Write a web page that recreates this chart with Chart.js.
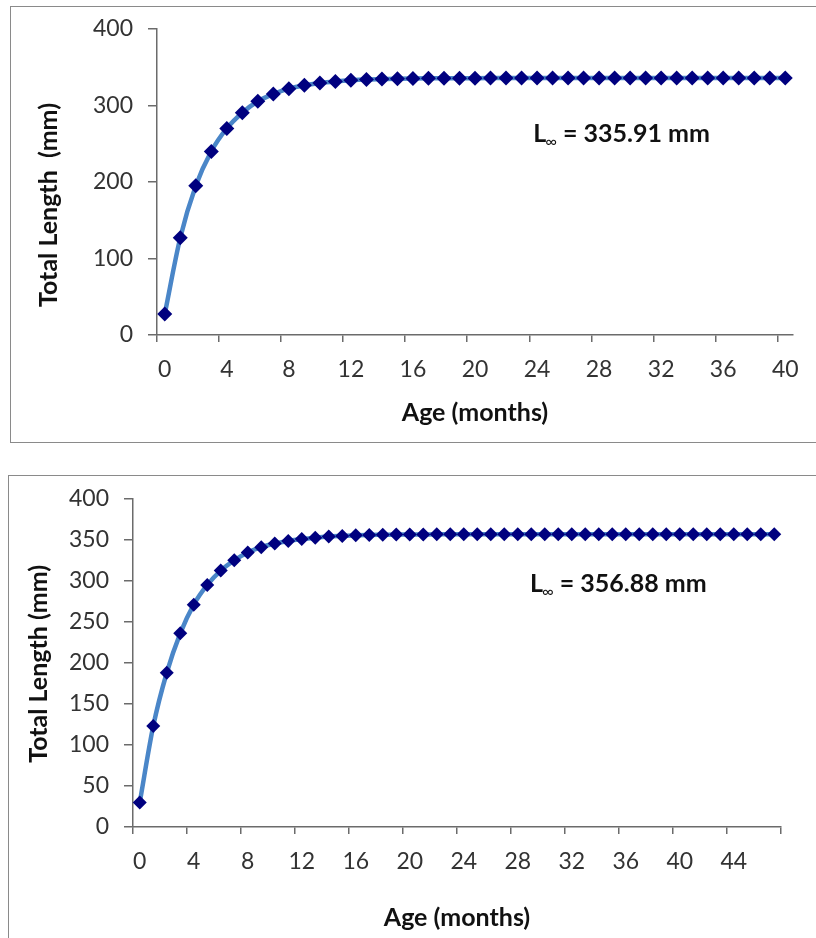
<!DOCTYPE html>
<html>
<head>
<meta charset="utf-8">
<script src="https://cdn.jsdelivr.net/npm/chart.js@4"></script>
<style>
  body { margin: 0; background: #fff; width: 816px; height: 938px; overflow: hidden; position: relative; }
  .box { position: absolute; border: 1.5px solid #8a8a8a; border-right: none; background: #fff; }
  .wrap { position: absolute; left: 0; width: 816px; }
</style>
</head>
<body>
<div class="box" style="left:10px; top:6px; width:820px; height:435px;"></div>
<div class="box" style="left:8px; top:475px; width:820px; height:480px;"></div>
<div class="wrap" style="top:0; height:460px;"><canvas id="chartTop"></canvas></div>
<div class="wrap" style="top:470px; height:468px;"><canvas id="chartBottom"></canvas></div>
<script>
// ages (months) and fitted total length (mm)
const agesTop = [0,1,2,3,4,5,6,7,8,9,10,11,12,13,14,15,16,17,18,19,20,21,22,23,24,25,26,27,28,29,30,31,32,33,34,35,36,37,38,39,40];
const lengthTop = [27.5,127,195,240,270,290.5,305.5,315,322,326.5,329.5,331.5,333,334,334.5,335,335.3,335.5,335.6,335.7,
  335.75,335.8,335.82,335.84,335.86,335.87,335.88,335.88,335.89,335.89,335.9,335.9,335.9,335.9,335.9,
  335.91,335.91,335.91,335.91,335.91,335.91];

const agesBottom = [0,1,2,3,4,5,6,7,8,9,10,11,12,13,14,15,16,17,18,19,20,21,22,23,24,25,26,27,28,29,30,31,32,33,34,35,36,37,38,39,40,41,42,43,44,45,46,47];
const lengthBottom = [30,123,188,236,271,295,312.5,325,334.5,341,345.5,348.5,351,352.5,354,354.8,355.5,356,356.2,356.4,
  356.5,356.6,356.7,356.75,356.78,356.8,356.82,356.83,356.84,356.85,356.86,356.86,356.87,356.87,356.87,356.87,
  356.88,356.88,356.88,356.88,356.88,356.88,356.88,356.88,356.88,356.88,356.88,356.88];

const yTicksTop = [0, 100, 200, 300, 400];
const yTicksBottom = [0, 50, 100, 150, 200, 250, 300, 350, 400];

const FONT = 'Lato, "Open Sans", sans-serif';
const axisColor = '#6b6b6b';
Chart.defaults.font.family = FONT;
Chart.defaults.color = '#333';

// y title (drawn by hand so it can sit off-centre like the original)
// and the "L∞ = ... mm" note with a subscript infinity
const notesPlugin = {
  id: 'notesPlugin',
  afterDraw(chart, args, opts) {
    const { ctx, chartArea, scales: { x, y } } = chart;
    ctx.save();
    ctx.fillStyle = '#111';

    ctx.save();
    ctx.translate(opts.yTitleX, (chartArea.top + chartArea.bottom) / 2 + opts.yTitleDy);
    ctx.rotate(-Math.PI / 2);
    ctx.textAlign = 'center';
    ctx.textBaseline = 'middle';
    ctx.font = 'bold 25px ' + FONT;
    ctx.fillText(opts.yTitle, 0, 0);
    ctx.restore();

    let px = x.getPixelForValue(opts.at[0]);
    const py = y.getPixelForValue(opts.at[1]);
    ctx.textBaseline = 'alphabetic';
    ctx.textAlign = 'left';
    ctx.font = 'bold 25px ' + FONT;
    ctx.fillText('L', px, py);
    px += ctx.measureText('L').width - 1;
    ctx.font = '16px ' + FONT;
    ctx.fillText('\u221E', px, py + 5);
    px += ctx.measureText('\u221E').width;
    ctx.font = 'bold 25px ' + FONT;
    ctx.fillText(' = ' + opts.value + ' mm', px, py);
    ctx.restore();
  }
};

function makeChart(id, ages, lengths, yTicks, o) {
  const n = ages.length;
  return new Chart(document.getElementById(id), {
    type: 'line',
    data: {
      labels: ages.map(String),
      datasets: [{
        data: lengths,
        borderColor: '#4a86c8',
        borderWidth: 4.5,
        tension: 0.4,
        cubicInterpolationMode: 'monotone',
        pointStyle: 'rectRot',
        pointRadius: o.pointRadius,
        pointBackgroundColor: '#00007f',
        pointBorderColor: '#00007f',
        pointBorderWidth: 0
      }]
    },
    options: {
      responsive: true,
      maintainAspectRatio: false,
      animation: false,
      layout: { padding: o.padding },
      plugins: {
        legend: { display: false },
        tooltip: { enabled: false },
        notesPlugin: {
          value: o.linf, at: o.linfAt,
          yTitle: o.yTitle, yTitleX: o.yTitleX, yTitleDy: o.yTitleDy
        }
      },
      scales: {
        x: {
          type: 'category',
          offset: true,
          afterFit: s => { s.height = o.xHeight; },
          grid: {
            offset: true,
            drawOnChartArea: false,
            drawTicks: true,
            tickLength: 7,
            lineWidth: 1.5,
            color: c => ((c.index === undefined ? n : c.index) % 4 === 0 ? axisColor : 'rgba(0,0,0,0)')
          },
          border: { display: true, color: axisColor, width: 1.5 },
          ticks: {
            autoSkip: false,
            maxRotation: 0,
            padding: 14,
            font: { size: 23 },
            callback: (v, i) => (i % 4 === 0 ? ages[i] : '')
          },
          title: {
            display: true,
            text: 'Age (months)',
            font: { size: 25, weight: 'bold' },
            color: '#111',
            padding: { top: 0, bottom: o.xTitlePad }
          }
        },
        y: {
          min: 0,
          max: 400,
          afterFit: s => { s.width = o.yWidth; },
          afterBuildTicks: s => { s.ticks = yTicks.map(v => ({ value: v })); },
          grid: { drawOnChartArea: false, drawTicks: true, tickLength: 9, lineWidth: 1.5, color: axisColor },
          border: { display: true, color: axisColor, width: 1.5 },
          ticks: { padding: 15, font: { size: 23 } },
          title: { display: false }
        }
      }
    },
    plugins: [notesPlugin]
  });
}

makeChart('chartTop', agesTop, lengthTop, yTicksTop, {
  padding: { left: 30, top: 29, right: 23, bottom: 0 },
  yWidth: 127, xHeight: 125, xTitlePad: 32,
  yTitle: 'Total Length  (mm)', yTitleX: 49, yTitleDy: 23,
  linf: '335.91', linfAt: [23.75, 252], pointRadius: 7.5
});

makeChart('chartBottom', agesBottom, lengthBottom, yTicksBottom, {
  padding: { left: 20, top: 26, right: 35, bottom: 0 },
  yWidth: 113, xHeight: 111, xTitlePad: 5,
  yTitle: 'Total Length (mm)', yTitleX: 39, yTitleDy: 1,
  linf: '356.88', linfAt: [28.9, 287], pointRadius: 7
});
</script>
</body>
</html>
